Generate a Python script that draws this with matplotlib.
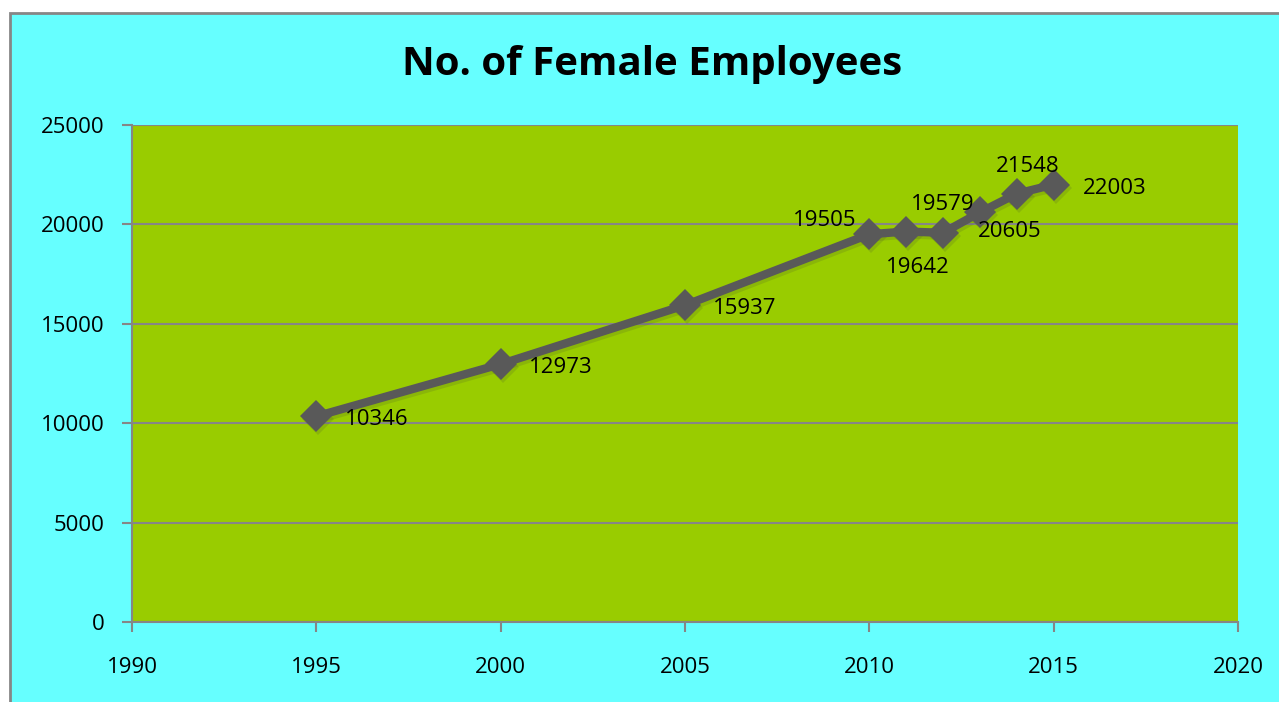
import matplotlib.pyplot as plt
from matplotlib.patches import Rectangle
from matplotlib.transforms import ScaledTranslation

plt.rcParams['font.family'] = ['Open Sans', 'DejaVu Sans']

# data
years = [1995, 2000, 2005, 2010, 2011, 2012, 2013, 2014, 2015]
employees = [10346, 12973, 15937, 19505, 19642, 19579, 20605, 21548, 22003]
x_ticks = [1990, 1995, 2000, 2005, 2010, 2015, 2020]
y_ticks = [0, 5000, 10000, 15000, 20000, 25000]

# label placement (pixels from the point, horizontal alignment)
label_pos = [
    (29, -3, 'left'), (28, -3, 'left'), (28, -3, 'left'),
    (-13, 14, 'right'), (12, -36, 'center'), (0, 28, 'center'),
    (30, -19, 'center'), (11, 27, 'center'), (29, -4, 'left'),
]

W, H = 1279, 702
fig = plt.figure(figsize=(W / 100, H / 100), dpi=100, facecolor='white')

# chart area (cyan box with gray border, cut off at right/bottom)
fig.patches.append(Rectangle((10 / W, -0.01), 1.02, 1 - 13 / H + 0.01,
                             transform=fig.transFigure, facecolor='#66FFFF',
                             edgecolor='#868686', linewidth=2, zorder=-1))

ax = fig.add_axes([132 / W, 1 - 622 / H, (1238 - 132) / W, (622 - 125) / H])
ax.set_zorder(1)
ax.set_facecolor('#99CC00')
ax.set_xlim(1990, 2020)
ax.set_ylim(0, 25000)
ax.set_xticks(x_ticks)
ax.set_yticks(y_ticks)
ax.grid(axis='y', color='#868686', linewidth=1.5)
ax.set_axisbelow(True)
for side in ['top', 'right']:
    ax.spines[side].set_visible(False)
for side in ['left', 'bottom']:
    ax.spines[side].set_color('#868686')
    ax.spines[side].set_linewidth(1.5)
ax.tick_params(colors='#868686', labelcolor='black', labelsize=16,
               length=7, width=1.5)
ax.tick_params(axis='x', pad=18)
ax.tick_params(axis='y', pad=13)

# soft shadow then line
shadow = ax.transData + ScaledTranslation(2 / 100, -3 / 100, fig.dpi_scale_trans)
ax.plot(years, employees, color='#3a3a3a', alpha=0.15, linewidth=6,
        marker='D', markersize=16, markeredgewidth=0, transform=shadow)
ax.plot(years, employees, color='#595959', linewidth=6,
        marker='D', markersize=16, markeredgewidth=0)

for x, y, (dx, dy, ha) in zip(years, employees, label_pos):
    ax.annotate(str(y), (x, y), xytext=(dx, dy), textcoords='offset pixels',
                ha=ha, va='center', fontsize=16, color='black')

fig.text(652 / W, 1 - 65 / H, 'No. of Female Employees', ha='center',
         va='center', fontsize=29, fontweight='bold')

fig.savefig('out.png', dpi=100)
